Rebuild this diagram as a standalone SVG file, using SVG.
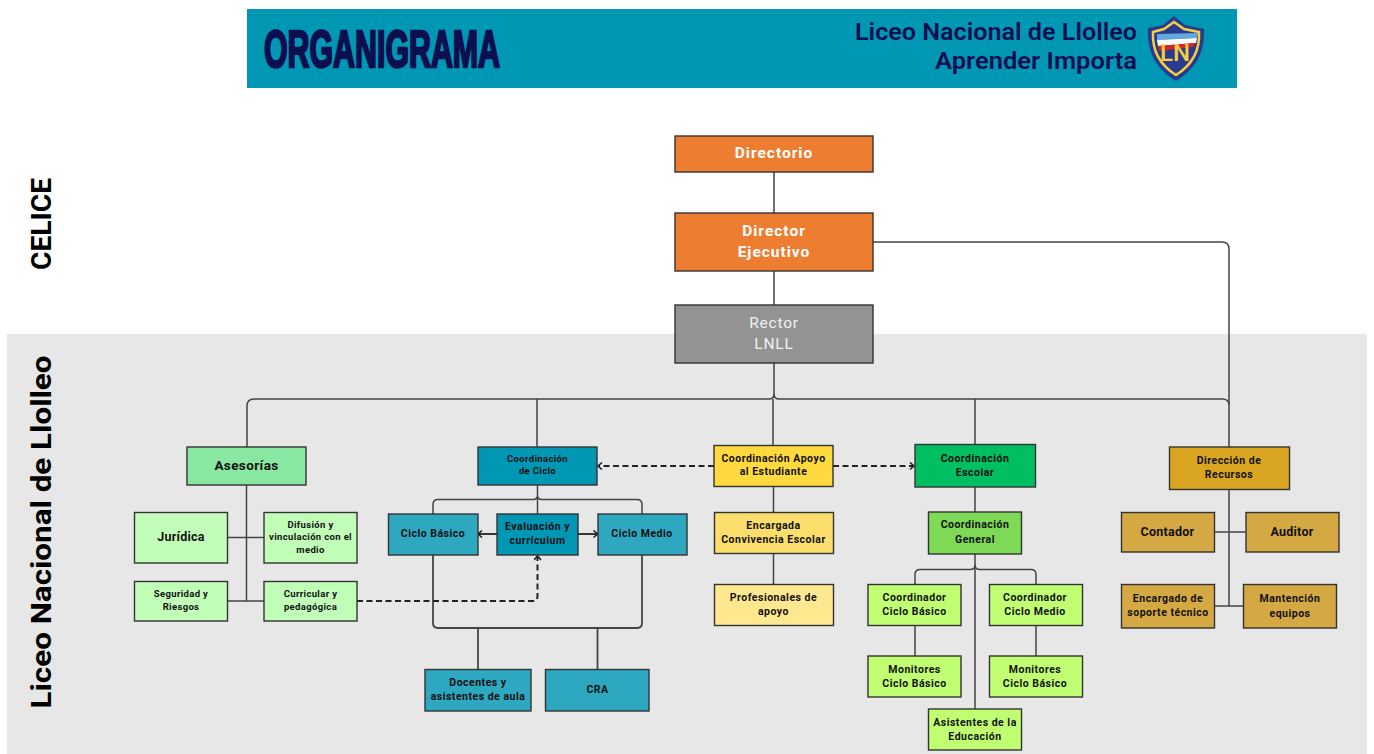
<svg xmlns="http://www.w3.org/2000/svg" width="1374" height="754" viewBox="0 0 1374 754">
<style>
text{font-family:Roboto,"Liberation Sans",sans-serif;font-weight:700;text-anchor:middle;fill:#111}
.n rect{stroke:#333;stroke-width:1.4}
.w{fill:#fff;font-size:15.5px;letter-spacing:1px}
.r{fill:#f0f0f0;font-size:15.5px;font-weight:400;letter-spacing:.8px}
.s10{font-size:9.5px;letter-spacing:.35px}.s9{font-size:10.5px;letter-spacing:.5px}.s12{font-size:12.5px;letter-spacing:.25px}
.c path{fill:none;stroke:#444;stroke-width:1.5}
.c path.da{stroke:#222;stroke-width:2;stroke-dasharray:6 3.5}
.c path.ar{marker-end:url(#a);stroke:#222;stroke-width:1.8}
.c path.dar{marker-end:url(#a)}
.t{fill:#0b0f50;font-size:23px;font-weight:600}
.v{font-size:28px;fill:#000}
</style>
<defs><marker id="a" markerUnits="userSpaceOnUse" markerWidth="10" markerHeight="10" refX="6.5" refY="4" orient="auto"><path d="M2.5 .5L6.500 4L2.500 7.500" fill="none" stroke="#222" stroke-width="1.6"/></marker></defs>
<rect x="7" y="334" width="1360" height="420" fill="#e7e7e7"/>
<g id="header">
<rect x="247" y="9" width="990" height="79" fill="#0097b5"/>
<text x="264" y="67" style="text-anchor:start;font-family:'Liberation Sans',sans-serif;font-size:52px;fill:#0b0f50;stroke:#0b0f50;stroke-width:2.6" textLength="236" lengthAdjust="spacingAndGlyphs">ORGANIGRAMA</text>
<text x="1137" y="40" class="t" style="text-anchor:end" textLength="282" lengthAdjust="spacingAndGlyphs">Liceo Nacional de Llolleo</text>
<text x="1137" y="69" class="t" style="text-anchor:end" textLength="202" lengthAdjust="spacingAndGlyphs">Aprender Importa</text>
<path d="M1174 16L1185 25L1204 29C1205 52 1196 69 1176 81C1156 69 1147 52 1148 28L1163 25Z" fill="#2a3b8f"/>
<path d="M1157 34L1198 33L1197 38L1157 40Z" fill="#5fa8e0"/>
<path d="M1157 40L1197 38L1196 43L1158 46Z" fill="#fff"/>
<path d="M1158 46L1196 43L1193 47L1159 51Z" fill="#d8232a"/>
<path d="M1174 22L1184 29L1199 32C1200 51 1192 65 1176 75C1160 65 1152 51 1153 32L1164 29Z" fill="none" stroke="#f5cf3e" stroke-width="2.5"/>
<text x="1175" y="61" style="font-size:24px;font-weight:500;fill:#f5cf3e">LN</text>
</g>
<text transform="translate(51 224) rotate(-90)" class="v" textLength="92" lengthAdjust="spacingAndGlyphs">CELICE</text>
<text transform="translate(51 532) rotate(-90)" class="v" textLength="353" lengthAdjust="spacingAndGlyphs">Liceo Nacional de Llolleo</text>
<g id="connectors" class="c">
<path d="M774 172V213M774 271V305"/>
<path d="M873 242H1222Q1229 242 1229 249V447"/>
<path d="M774 363V394Q774 399 779 399H1222Q1229 399 1229 405"/>
<path d="M774 394Q774 399 769 399H254Q247 399 247 406V447"/>
<path d="M537 399V447M773 399V445M975 399V444"/>
<path d="M246.500 485V601M227 537.500H264M227 601H264"/>
<path d="M537.500 485V514M537.500 495Q537.500 499.500 533 499.500H438Q433 499.500 433 504.500V514M537.500 495Q537.500 499.500 542 499.500H637Q642 499.500 642 504.500V514"/>
<path class="ar" d="M497 534H478"/>
<path class="ar" d="M578 534H597.500"/>
<path d="M433 555V623Q433 628 438 628H637Q642 628 642 623V555M478 628V669M597.500 628V669" style="stroke-width:1.8"/>
<path class="da dar" d="M357 601H533Q537.500 601 537.500 596V556"/>
<path class="da dar" d="M714 466H598"/>
<path class="da dar" d="M833 466H914"/>
<path d="M773.500 487V512M773.500 554V584"/>
<path d="M975 487V512M975 554V709"/>
<path d="M975 565Q975 569.500 970 569.500H920Q915 569.500 915 574.500V584M975 565Q975 569.500 980 569.500H1031Q1036 569.500 1036 574.500V584"/>
<path d="M915 626V656M1036 626V656"/>
<path d="M1229 489V606M1214 532H1245.500M1214 606H1243"/>
</g>
<g id="directorio" class="n"><rect x="675" y="136" width="198" height="36" fill="#ed7d31"/><text class="w" x="774" y="158">Directorio</text></g>
<g id="director" class="n"><rect x="675" y="213" width="198" height="58" fill="#ed7d31"/><text class="w" x="774" y="236">Director</text><text class="w" x="774" y="257">Ejecutivo</text></g>
<g id="rector" class="n"><rect x="675" y="305" width="198" height="58" fill="#939393"/><text class="r" x="774" y="328">Rector</text><text class="r" x="774" y="349">LNLL</text></g>
<g id="asesorias" class="n"><rect x="187" y="447" width="119" height="38" fill="#88e7a0"/><text class="s12" x="246.500" y="470" style="font-size:13.5px;letter-spacing:.4px">Asesorías</text></g>
<g id="juridica" class="n"><rect x="134.500" y="512.500" width="93" height="50.500" fill="#c1ffb9"/><text class="s12" x="181" y="541">Jurídica</text></g>
<g id="difusion" class="n"><rect x="264" y="512.500" width="93" height="50.500" fill="#c1ffb9"/><text class="s10" x="310.500" y="528">Difusión y</text><text class="s10" x="310.500" y="540">vinculación con el</text><text class="s10" x="310.500" y="553">medio</text></g>
<g id="seguridad" class="n"><rect x="134.500" y="581.500" width="93" height="39.500" fill="#c1ffb9"/><text class="s10" x="181" y="597">Seguridad y</text><text class="s10" x="181" y="610">Riesgos</text></g>
<g id="curricular" class="n"><rect x="264" y="581.500" width="93" height="39.500" fill="#c1ffb9"/><text class="s10" x="310.500" y="597">Curricular y</text><text class="s10" x="310.500" y="610">pedagógica</text></g>
<g id="coord-ciclo" class="n"><rect x="478" y="447" width="119" height="38" fill="#0097b5"/><text class="s10" x="537.500" y="462">Coordinación</text><text class="s10" x="537.500" y="474">de Ciclo</text></g>
<g id="ciclo-basico" class="n"><rect x="388.500" y="514" width="89.500" height="41" fill="#2ea7c1"/><text class="s9" x="433" y="537">Ciclo Básico</text></g>
<g id="evaluacion" class="n"><rect x="497" y="514" width="81" height="41" fill="#0097b5"/><text class="s9" x="537.500" y="530">Evaluación y</text><text class="s9" x="537.500" y="544">currículum</text></g>
<g id="ciclo-medio" class="n"><rect x="598" y="514" width="89" height="41" fill="#2ea7c1"/><text class="s9" x="642" y="537">Ciclo Medio</text></g>
<g id="docentes" class="n"><rect x="425" y="669.500" width="106" height="41.500" fill="#2ea7c1"/><text class="s9" x="478" y="686">Docentes y</text><text class="s9" x="478" y="700">asistentes de aula</text></g>
<g id="cra" class="n"><rect x="545.500" y="669.500" width="103.500" height="41.500" fill="#2ea7c1"/><text class="s9" x="597.500" y="693">CRA</text></g>
<g id="apoyo" class="n"><rect x="714" y="445.500" width="119" height="41" fill="#ffd93d"/><text class="s9" x="773.500" y="462">Coordinación Apoyo</text><text class="s9" x="773.500" y="475">al Estudiante</text></g>
<g id="encargada" class="n"><rect x="714.500" y="512.500" width="119" height="41" fill="#fbde6b"/><text class="s9" x="773.500" y="529">Encargada</text><text class="s9" x="773.500" y="543">Convivencia Escolar</text></g>
<g id="profesionales" class="n"><rect x="714.500" y="584.500" width="119" height="41" fill="#ffe88f"/><text class="s9" x="773.500" y="601">Profesionales de</text><text class="s9" x="773.500" y="615">apoyo</text></g>
<g id="coord-escolar" class="n"><rect x="915" y="444.500" width="120.500" height="42.500" fill="#00bf63"/><text class="s9" x="975" y="462">Coordinación</text><text class="s9" x="975" y="476">Escolar</text></g>
<g id="coord-general" class="n"><rect x="928.500" y="512" width="93" height="42" fill="#7ed957"/><text class="s9" x="975" y="528">Coordinación</text><text class="s9" x="975" y="543">General</text></g>
<g id="coordinador-basico" class="n"><rect x="868" y="584.500" width="93" height="41" fill="#c1ff72"/><text class="s9" x="914.500" y="601">Coordinador</text><text class="s9" x="914.500" y="615">Ciclo Básico</text></g>
<g id="coordinador-medio" class="n"><rect x="989.500" y="584.500" width="93" height="41" fill="#c1ff72"/><text class="s9" x="1035" y="601">Coordinador</text><text class="s9" x="1035" y="615">Ciclo Medio</text></g>
<g id="monitores-1" class="n"><rect x="868" y="656" width="93" height="41" fill="#c1ff72"/><text class="s9" x="914.500" y="673">Monitores</text><text class="s9" x="914.500" y="687">Ciclo Básico</text></g>
<g id="monitores-2" class="n"><rect x="989.500" y="656" width="93" height="41" fill="#c1ff72"/><text class="s9" x="1035" y="673">Monitores</text><text class="s9" x="1035" y="687">Ciclo Básico</text></g>
<g id="asistentes" class="n"><rect x="928.500" y="709" width="93" height="41" fill="#c1ff72"/><text class="s9" x="975" y="726">Asistentes de la</text><text class="s9" x="975" y="740">Educación</text></g>
<g id="recursos" class="n"><rect x="1169.500" y="447" width="120" height="42.500" fill="#daa520"/><text class="s9" x="1229" y="464">Dirección de</text><text class="s9" x="1229" y="478">Recursos</text></g>
<g id="contador" class="n"><rect x="1121.500" y="512.500" width="93" height="39.500" fill="#d4a842"/><text class="s12" x="1167.500" y="536">Contador</text></g>
<g id="auditor" class="n"><rect x="1246" y="512.500" width="93" height="39.500" fill="#d4a842"/><text class="s12" x="1292" y="536">Auditor</text></g>
<g id="soporte" class="n"><rect x="1121.500" y="584.500" width="93" height="43.500" fill="#d4a842"/><text class="s9" x="1168" y="602">Encargado de</text><text class="s9" x="1168" y="616">soporte técnico</text></g>
<g id="mantencion" class="n"><rect x="1243.500" y="584.500" width="93" height="43.500" fill="#d4a842"/><text class="s9" x="1290" y="602">Mantención</text><text class="s9" x="1290" y="617">equipos</text></g>
</svg>
